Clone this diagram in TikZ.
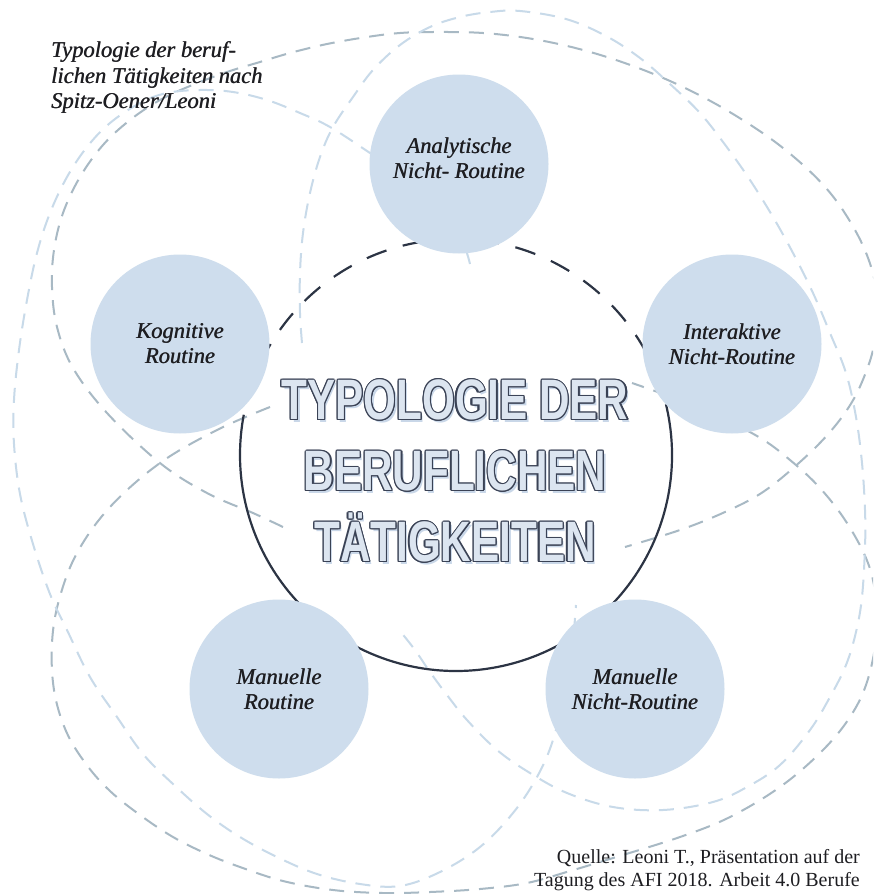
\documentclass[tikz,border=0pt]{standalone}
\usepackage{fontspec}
\setmainfont{Liberation Serif}
\newfontfamily\titlefont[FakeStretch=0.74]{Liberation Sans}
\usetikzlibrary{calc}

\definecolor{bubblefill}{HTML}{CEDDED}
\definecolor{loopdark}{HTML}{A8B9C4}
\definecolor{looplight}{HTML}{C8DAE9}
\definecolor{ring}{HTML}{2C3444}
\definecolor{titlefill}{HTML}{DCE5F0}
\definecolor{titleline}{HTML}{3A4255}
\definecolor{titleshade}{HTML}{C9D7E8}
\definecolor{ink}{HTML}{1E1E22}

\newcommand\titlelines{TYPOLOGIE DER\\BERUFLICHEN\\TÄTIGKEITEN}
% slightly heavier italic: the line is set twice, a hair apart
\newcommand\hv[1]{\leavevmode\rlap{#1}\hspace{0.5pt}#1}

\begin{document}
\begin{tikzpicture}[x=1pt,y=-1pt,
  petal/.style={line width=2pt, dash pattern=on 15pt off 10pt},
  bubble/.style={circle, fill=bubblefill, minimum size=179pt, inner sep=0pt},
  bubbletext/.style={align=center, text=ink, inner sep=0pt,
    font=\itshape\fontsize{22.5}{25}\selectfont},
  headtext/.style={align=left, text=ink, inner sep=0pt,
    font=\itshape\fontsize{22.5}{25.5}\selectfont},
  sourcetext/.style={align=right, text=ink, inner sep=0pt,
    font=\fontsize{20}{23.5}\selectfont},
  titletext/.style={align=center, inner sep=0pt,
    font=\titlefont\bfseries\fontsize{57}{71}\selectfont},
]
\fill[white] (0,0) rectangle (873,894);
\useasboundingbox (0,0) rectangle (873,894);

% dashed loops behind everything
\begin{scope}
\clip (0,0) rectangle (873,894);
\draw[petal, loopdark] plot[smooth, tension=0.6] coordinates {
  (283,527) (253,513) (207,493) (160,463) (107,413) (73,368) (57,327)
  (52,287) (54,250) (63,213) (80,177) (103,145) (130,120) (160,100)
  (190,86) (227,72) (260,62) (290,53) (327,44) (367,37) (400,33)
  (433,32) (483,33) (533,39) (583,50) (633,66) (683,87) (733,114)
  (783,148) (826,188) (855,230) (872,270) (878,310) (874,345) (866,372)
  (852,402) (830,432) (800,462) (763,492) (725,512) (680,530) (625,547)};
\draw[petal, loopdark] plot[smooth, tension=0.6] coordinates {
  (270,407) (217,430) (160,463) (110,507) (77,553) (59,600) (52,643)
  (54,690) (66,731) (86,764) (110,791) (140,815) (173,837) (207,854)
  (240,867) (283,881) (333,890) (383,893) (430,892) (480,889) (527,883)
  (570,871) (613,858) (680,837) (730,817) (780,787) (820,753) (848,720)
  (866,685) (876,640) (876,600) (868,563) (847,523) (820,488) (790,460)
  (757,436) (700,408) (632,383)};
\draw[petal, looplight] plot[smooth, tension=0.6] coordinates {
  (302,343) (300,313) (300,273) (303,233) (310,193) (320,157) (333,127)
  (353,97) (373,70) (400,45) (430,27) (460,17) (490,12) (520,11)
  (566,19) (606,36) (640,58) (670,84) (700,113) (726,146) (750,180)
  (773,217) (793,253) (813,293) (830,333) (846,373) (856,417) (862,463)
  (865,510) (865,547) (862,597) (856,632) (846,665) (830,697) (810,730)
  (780,765) (747,787) (713,802) (663,810) (613,807) (567,793) (530,773)
  (497,750) (467,720) (447,695) (430,672) (415,650) (400,631)};
\draw[petal, looplight] plot[smooth, tension=0.6] coordinates {
  (470,264) (458,232) (425,190) (370,153) (330,127) (300,113) (267,100)
  (233,92) (200,90) (167,93) (140,103) (110,123) (87,147) (67,177)
  (50,213) (37,253) (27,300) (19,350) (14,400) (14,444) (20,494)
  (33,544) (50,594) (67,630) (90,677) (117,717) (143,754) (173,784)
  (207,814) (240,837) (277,857) (317,874) (360,884) (400,886) (440,872)
  (480,847) (513,813) (537,777) (553,740) (565,690) (572,650) (576,605)};
\end{scope}

% central ring: solid below, dashed above
\coordinate (hub) at (456,455);
\draw[ring, line width=2.2pt] ($(hub)+(-8:216)$) arc[start angle=-8, end angle=188, radius=216];
\draw[ring, line width=2.2pt, dash pattern=on 21pt off 17pt]
  ($(hub)+(-8:216)$) arc[start angle=-8, end angle=-172, radius=216];

% five category bubbles
\node[bubble] (analytic) at (459,164) {};
\node[bubble] (cognitive) at (180,344) {};
\node[bubble] (interactive) at (732,344) {};
\node[bubble] (manualr) at (279,689) {};
\node[bubble] (manualn) at (635,689) {};

\node[bubbletext] (analytictext) at (459,158) {\hv{Analytische}\\\hv{Nicht- Routine}};
\node[bubbletext] (cognitivetext) at (180,344) {\hv{Kognitive}\\\hv{Routine}};
\node[bubbletext] (interactivetext) at (732,344) {\hv{Interaktive}\\\hv{Nicht-Routine}};
\node[bubbletext] (manualrtext) at (279,689) {\hv{Manuelle}\\\hv{Routine}};
\node[bubbletext] (manualntext) at (635,689) {\hv{Manuelle}\\\hv{Nicht-Routine}};

% outlined title
\node[titletext, text=titleshade] (titleshadow) at (457.5,473.5) {\titlelines};
\foreach \a in {0,30,...,330}
  \node[titletext, text=titleline] (tl\a) at ($(455,471)+(\a:1.2)$) {\titlelines};
\node[titletext, text=titlefill] (title) at (455,471) {\titlelines};

% captions
\node[headtext, anchor=north west] (heading) at (51,41.5)
  {\hv{Typologie der beruf-}\\\hv{lichen Tätigkeiten nach}\\\hv{Spitz-Oener/Leoni}};
\node[sourcetext, anchor=south east] (source) at (860,891.5)
  {Quelle: Leoni T., Präsentation auf der\\Tagung des AFI 2018. Arbeit 4.0 Berufe};
\end{tikzpicture}
\end{document}
